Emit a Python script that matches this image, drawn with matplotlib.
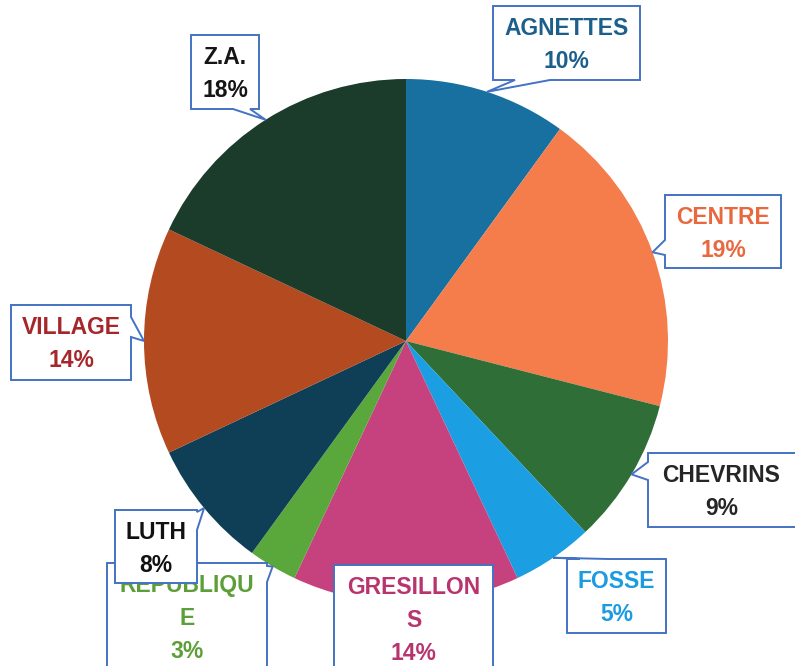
#!/usr/bin/env python3
"""Pie chart of shares per zone with Excel-style callout labels."""

import textwrap

import matplotlib

matplotlib.use("Agg")

import matplotlib.pyplot as plt
import numpy as np
from matplotlib.patches import Polygon

W, H = 795, 666

ZONES = ["AGNETTES", "CENTRE", "CHEVRINS", "FOSSE", "GRESILLONS",
         "REPUBLIQUE", "LUTH", "VILLAGE", "Z.A."]
SHARES = [10, 19, 9, 5, 14, 3, 8, 14, 18]

SLICE_COLORS = ["#17709f", "#f57c4b", "#2f6f37", "#1b9fe2", "#c5427f",
                "#5aa83b", "#0f3f56", "#b44a20", "#1b3b2b"]
TEXT_COLORS = ["#1d5f8c", "#e8693f", "#262626", "#1b9be0", "#b8346f",
               "#5c9f38", "#111111", "#a5262b", "#151515"]

BOX_EDGE = "#4472c4"

# callout boxes in pixels from the top-left: (left, top, right, bottom),
# side carrying the pointer, and the span of the pointer base on that side
CALLOUTS = {
    "AGNETTES": ((493, 6, 640, 80), "bottom", (515, 550)),
    "CENTRE": ((665, 195, 781, 268), "left", (240, 255)),
    "CHEVRINS": ((648, 453, 800, 527), "left", (462, 480)),
    "FOSSE": ((567, 559, 666, 633), "top", (580, 608)),
    "GRESILLONS": ((334, 565, 493, 700), None, None),
    "REPUBLIQUE": ((107, 563, 267, 700), "right", (566, 582)),
    "LUTH": ((115, 510, 197, 583), "right", (512, 530)),
    "VILLAGE": ((11, 305, 131, 380), "right", (317, 337)),
    "Z.A.": ((191, 35, 259, 109), "bottom", (233, 250)),
}

CENTER = (406, H - 341)
RADIUS = 262


def callout_shape(box, side, span, tip):
    """Rectangle outline (y-up coords) with a pointer wedge on one side."""
    l, t, r, b = box
    t, b = H - t, H - b
    pts = [(l, t)]
    if side == "top":
        pts += [(span[0], t), tip, (span[1], t)]
    pts.append((r, t))
    if side == "right":
        pts += [(r, H - span[0]), tip, (r, H - span[1])]
    pts.append((r, b))
    if side == "bottom":
        pts += [(span[1], b), tip, (span[0], b)]
    pts.append((l, b))
    if side == "left":
        pts += [(l, H - span[1]), tip, (l, H - span[0])]
    return pts


fig = plt.figure(figsize=(W / 100, H / 100), dpi=100)
ax = fig.add_axes([0, 0, 1, 1])

wedges, _ = ax.pie(SHARES, colors=SLICE_COLORS, startangle=90, counterclock=False,
                   center=CENTER, radius=RADIUS, wedgeprops=dict(linewidth=0))

for i, (zone, share, wedge) in enumerate(zip(ZONES, SHARES, wedges)):
    box, side, span = CALLOUTS[zone]
    ang = np.deg2rad((wedge.theta1 + wedge.theta2) / 2)
    tip = (CENTER[0] + RADIUS * np.cos(ang), CENTER[1] + RADIUS * np.sin(ang))
    shape = Polygon(callout_shape(box, side, span, tip), closed=True,
                    facecolor="white", edgecolor=BOX_EDGE, linewidth=1.4,
                    zorder=3 + 2 * i)
    ax.add_patch(shape)

    lines = textwrap.wrap(zone, 9) + [f"{share}%"]
    cx = (box[0] + min(box[2], W)) / 2
    for k, line in enumerate(lines):
        ax.text(cx, H - (box[1] + 29 + 33 * k), line, ha="center", va="baseline",
                fontsize=16.5, fontweight="bold", family="Liberation Sans",
                color=TEXT_COLORS[i], zorder=4 + 2 * i)

ax.set_xlim(0, W)
ax.set_ylim(0, H)
ax.set_aspect("equal")
ax.axis("off")

fig.savefig("out.png", dpi=100, facecolor="white")
